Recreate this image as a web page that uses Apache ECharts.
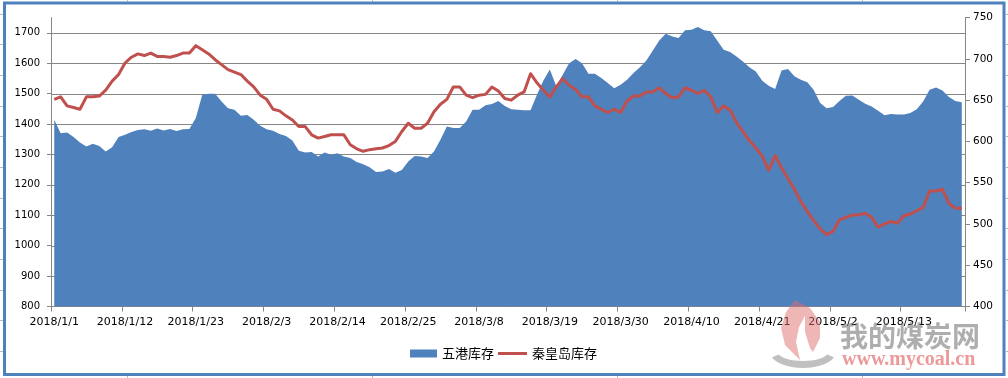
<!DOCTYPE html>
<html>
<head>
<meta charset="utf-8">
<script src="https://cdn.jsdelivr.net/npm/echarts@6/dist/echarts.min.js"></script>
<style>html,body{margin:0;padding:0;background:#fff;}#c{width:1008px;height:378px;}</style>
</head>
<body>
<div id="c"></div>
<script>
// ---- data ----
const startDate = [2018, 1, 1];
const dayCount = 142;
const seriesNames = ['五港库存', '秦皇岛库存'];
const fivePorts = [
1414,1370,1372,1357,1339,1326,1335,1328,1310,1324,
1357,1365,1374,1380,1383,1378,1385,1379,1384,1377,
1383,1384,1420,1496,1500,1500,1474,1452,1447,1427,
1430,1414,1394,1383,1378,1367,1361,1346,1312,1306,
1308,1293,1306,1299,1304,1293,1288,1275,1268,1258,
1242,1244,1252,1240,1249,1277,1295,1293,1288,1310,
1348,1392,1387,1387,1408,1447,1447,1462,1466,1476,
1459,1449,1447,1445,1445,1496,1543,1579,1524,1562,
1600,1614,1600,1565,1565,1551,1535,1518,1529,1546,
1568,1587,1609,1642,1675,1697,1688,1683,1708,1710,
1719,1708,1705,1675,1644,1637,1622,1606,1587,1573,
1542,1526,1515,1576,1581,1557,1546,1537,1512,1469,
1452,1456,1476,1493,1494,1480,1467,1458,1444,1429,
1433,1431,1431,1436,1449,1474,1513,1520,1510,1489,
1476,1472];
const qinhuangdao = [
651,654,643,641,639,654,654,655,662,673,
681,695,702,706,704,707,703,703,702,704,
707,707,716,711,706,699,693,687,684,681,
673,666,656,651,639,637,631,626,618,618,
608,604,606,608,608,608,596,591,588,590,
591,592,595,600,612,622,616,616,622,636,
645,651,666,666,656,653,656,657,666,661,
652,650,656,660,682,671,662,654,666,676,
668,663,654,654,643,639,635,639,635,649,
655,655,660,660,665,658,653,654,665,662,
658,662,654,635,643,638,623,612,601,592,
582,565,583,568,555,542,527,515,504,494,
487,491,505,508,511,511,513,508,496,500,
503,501,510,512,516,520,540,540,542,525,
519,519];
const leftAxis = [800, 1750, 100];   // min, max, interval (labels up to 1700)
const leftGridTop = 1700;
const rightAxis = [400, 750, 50];

const categories = [];
for (let i = 0; i < dayCount; i++) {
  const d = new Date(Date.UTC(startDate[0], startDate[1] - 1, startDate[2] + i));
  categories.push(d.getUTCFullYear() + '/' + (d.getUTCMonth() + 1) + '/' + d.getUTCDate());
}

// ---- styles ----
const BLUE = '#4F81BD', RED = '#C0504D', GRID = '#868686';
const numFont = 'DejaVu Sans';
const cjk = '"Noto Sans CJK SC", sans-serif';

const chart = echarts.init(document.getElementById('c'), null, {renderer: 'canvas'});

// spreadsheet cell lines outside the frame
const cellLines = [];
[127.5, 372.5, 617.5, 862.5].forEach(x => {
  cellLines.push({type: 'line', silent: true, shape: {x1: x, y1: 0, x2: x, y2: 1.5}, style: {stroke: '#bbb', lineWidth: 1}});
  cellLines.push({type: 'line', silent: true, shape: {x1: x, y1: 376, x2: x, y2: 378}, style: {stroke: '#bbb', lineWidth: 1}});
});
for (let y = 13.5; y < 378; y += 30.7) {
  const yy = Math.round(y) + 0.5;
  cellLines.push({type: 'line', silent: true, shape: {x1: 0, y1: yy, x2: 3, y2: yy}, style: {stroke: '#bbb', lineWidth: 1}});
  cellLines.push({type: 'line', silent: true, shape: {x1: 1006, y1: yy, x2: 1008, y2: yy}, style: {stroke: '#bbb', lineWidth: 1}});
}

// watermark swoosh (decorative)
const swoosh = [];
for (let a = 200; a <= 340; a += 10) {
  const r = a * Math.PI / 180;
  swoosh.push([803 + 33 * Math.cos(r), 352 - 16 * Math.sin(r)]);
}
for (let a = 340; a >= 200; a -= 10) {
  const r = a * Math.PI / 180;
  swoosh.push([803 + 26 * Math.cos(r), 351 - 10 * Math.sin(r)]);
}

const plain = v => String(v);

const option = {
  backgroundColor: '#fff',
  animation: false,
  grid: [
    {left: 51, right: 43, top: 17.6, bottom: 71.5},
    {left: 51, right: 43, top: 33.3, bottom: 71.5}
  ],
  legend: [
    {data: [seriesNames[0]], left: 410, top: 347, itemWidth: 27, itemHeight: 8, padding: 0, itemGap: 0,
     icon: 'rect', textStyle: {fontFamily: cjk, fontSize: 13, color: '#000'}},
    {data: [seriesNames[1]], left: 498, top: 347, itemWidth: 29, itemHeight: 3, padding: 0, itemGap: 0,
     icon: 'rect', textStyle: {fontFamily: cjk, fontSize: 13, color: '#000'}}
  ],
  xAxis: [
    {type: 'category', gridIndex: 0, data: categories, boundaryGap: true,
     axisLine: {lineStyle: {color: GRID, width: 1}},
     axisTick: {show: true, interval: 10, length: 5, lineStyle: {color: GRID}},
     axisLabel: {interval: 10, margin: 10, fontFamily: numFont, fontSize: 11, color: '#000'},
     splitLine: {show: false}},
    {type: 'category', gridIndex: 1, data: categories, boundaryGap: true, show: false}
  ],
  yAxis: [
    {type: 'value', gridIndex: 0, position: 'left', min: leftAxis[0], max: leftAxis[1], interval: leftAxis[2],
     axisLine: {show: true, lineStyle: {color: GRID}},
     axisTick: {show: true, length: 4, lineStyle: {color: GRID}},
     axisLabel: {margin: 11, fontFamily: numFont, fontSize: 10, color: '#000', showMaxLabel: false,
                 formatter: v => (v > leftGridTop ? '' : plain(v))},
     splitLine: {show: false}},
    {type: 'value', gridIndex: 0, position: 'right', min: rightAxis[0], max: rightAxis[1], interval: rightAxis[2],
     axisLine: {show: true, lineStyle: {color: GRID}},
     axisTick: {show: true, length: 5, lineStyle: {color: GRID}},
     axisLabel: {margin: 8, fontFamily: numFont, fontSize: 10.5, color: '#000', formatter: plain},
     splitLine: {show: false}},
    {type: 'value', gridIndex: 1, min: leftAxis[0], max: leftGridTop, interval: leftAxis[2],
     axisLine: {show: false}, axisTick: {show: false}, axisLabel: {show: false},
     splitLine: {show: true, lineStyle: {color: GRID, width: 1}}}
  ],
  series: [
    {name: seriesNames[0], type: 'line', xAxisIndex: 0, yAxisIndex: 0, data: fivePorts,
     showSymbol: false, symbol: 'none', lineStyle: {width: 0}, itemStyle: {color: BLUE},
     areaStyle: {color: BLUE, opacity: 1}, z: 2},
    {name: seriesNames[1], type: 'line', xAxisIndex: 0, yAxisIndex: 1, data: qinhuangdao,
     showSymbol: false, symbol: 'none', lineStyle: {width: 3, color: RED, join: 'round'},
     itemStyle: {color: RED}, z: 3}
  ],
  graphic: [
    {type: 'rect', silent: true, z: 100, shape: {x: 4.5, y: 3, width: 999.5, height: 371.5},
     style: {fill: 'none', stroke: BLUE, lineWidth: 3}},
    ...cellLines,
    {type: 'polygon', z: 90, silent: true,
     shape: {points: [[795,300],[786,312],[781,328],[785,345],[800,360],[796,342],[799,327],[805,316],[805,332],[810,348],[813,352],[820,338],[820,322],[810,308]]},
     style: {fill: 'rgba(224,110,110,0.5)'}},
    {type: 'polygon', z: 90, silent: true, shape: {points: swoosh},
     style: {fill: 'rgba(130,130,130,0.5)'}},
    {type: 'text', z: 90, silent: true, x: 840, y: 322,
     style: {text: '我的煤炭网', font: 'bold 28px "Noto Sans CJK SC"', fill: 'rgba(120,120,120,0.6)'}},
    {type: 'text', z: 90, silent: true, x: 842, y: 350,
     style: {text: 'www.mycoal.cn', font: 'bold 20px "Liberation Serif"', fill: 'rgba(228,110,110,0.7)'}}
  ]
};
chart.setOption(option);
</script>
</body>
</html>
